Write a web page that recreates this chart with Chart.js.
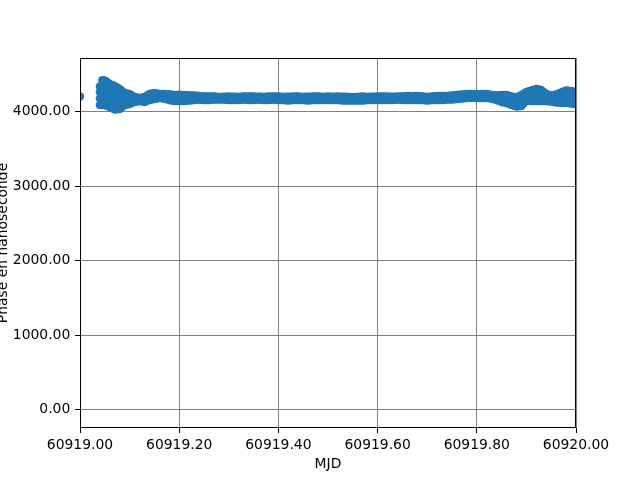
<!DOCTYPE html>
<html>
<head>
<meta charset="utf-8">
<script src="https://cdn.jsdelivr.net/npm/chart.js@4"></script>
<style>
  body { margin: 0; background: #fff; }
  canvas { display: block; }
</style>
</head>
<body>
<canvas id="phase-chart" width="640" height="480"></canvas>
<script>
// first sample, then the rest of the day
var firstMjd = [60919.0];
var firstPhase = [4201];

var mjd = [
  60919.04, 60919.05, 60919.06, 60919.07, 60919.08, 60919.09, 60919.10, 60919.11, 60919.12, 60919.13,
  60919.14, 60919.15, 60919.16, 60919.17, 60919.18, 60919.19, 60919.20, 60919.21, 60919.22, 60919.23,
  60919.24, 60919.25, 60919.26, 60919.27, 60919.28, 60919.29, 60919.30, 60919.31, 60919.32, 60919.33,
  60919.34, 60919.35, 60919.36, 60919.37, 60919.38, 60919.39, 60919.40, 60919.41, 60919.42, 60919.43,
  60919.44, 60919.45, 60919.46, 60919.47, 60919.48, 60919.49, 60919.50, 60919.51, 60919.52, 60919.53,
  60919.54, 60919.55, 60919.56, 60919.57, 60919.58, 60919.59, 60919.60, 60919.61, 60919.62, 60919.63,
  60919.64, 60919.65, 60919.66, 60919.67, 60919.68, 60919.69, 60919.70, 60919.71, 60919.72, 60919.73,
  60919.74, 60919.75, 60919.76, 60919.77, 60919.78, 60919.79, 60919.80, 60919.81, 60919.82, 60919.83,
  60919.84, 60919.85, 60919.86, 60919.87, 60919.88, 60919.89, 60919.90, 60919.91, 60919.92, 60919.93,
  60919.94, 60919.95, 60919.96, 60919.97, 60919.98, 60919.99, 60920.0
];

var phaseHigh = [
  4335, 4416, 4369, 4342, 4302, 4248, 4235, 4195, 4181, 4195,
  4235, 4248, 4235, 4235, 4232, 4221, 4224, 4221, 4218, 4215,
  4208, 4201, 4203, 4201, 4195, 4197, 4201, 4199, 4195, 4201,
  4203, 4201, 4199, 4195, 4201, 4203, 4201, 4195, 4199, 4201,
  4201, 4195, 4199, 4201, 4203, 4195, 4201, 4199, 4201, 4199,
  4195, 4193, 4195, 4201, 4195, 4199, 4201, 4203, 4201, 4199,
  4201, 4203, 4208, 4206, 4208, 4201, 4195, 4201, 4208, 4208,
  4208, 4215, 4221, 4228, 4235, 4235, 4232, 4235, 4235, 4221,
  4215, 4221, 4221, 4201, 4188, 4221, 4262, 4282, 4302, 4289,
  4235, 4215, 4228, 4255, 4282, 4275, 4262
];

var phaseMid = [
  4262, 4309, 4262, 4235, 4208, 4168, 4168, 4161, 4161, 4161,
  4195, 4208, 4208, 4208, 4195, 4181, 4181, 4181, 4181, 4181,
  4178, 4178, 4176, 4180, 4178, 4176, 4178, 4178, 4175, 4178,
  4178, 4176, 4178, 4175, 4178, 4180, 4178, 4175, 4176, 4178,
  4178, 4175, 4176, 4178, 4178, 4175, 4178, 4178, 4178, 4174,
  4172, 4172, 4172, 4175, 4176, 4178, 4178, 4178, 4178, 4178,
  4180, 4178, 4181, 4181, 4181, 4178, 4172, 4178, 4181, 4181,
  4185, 4188, 4195, 4201, 4208, 4208, 4208, 4208, 4208, 4195,
  4181, 4174, 4168, 4141, 4128, 4148, 4208, 4208, 4221, 4215,
  4188, 4174, 4174, 4188, 4201, 4195, 4181
];

var phaseLow = [
  4087, 4087, 4060, 4027, 4034, 4087, 4101, 4128, 4141, 4128,
  4154, 4168, 4181, 4174, 4154, 4141, 4141, 4141, 4148, 4154,
  4161, 4154, 4154, 4161, 4161, 4161, 4154, 4154, 4154, 4161,
  4154, 4154, 4161, 4154, 4154, 4161, 4154, 4154, 4148, 4154,
  4154, 4154, 4148, 4154, 4154, 4154, 4154, 4154, 4154, 4148,
  4148, 4148, 4148, 4148, 4154, 4154, 4154, 4154, 4154, 4154,
  4161, 4154, 4154, 4154, 4154, 4154, 4148, 4154, 4154, 4154,
  4161, 4161, 4168, 4174, 4181, 4185, 4181, 4181, 4181, 4174,
  4154, 4128, 4114, 4087, 4067, 4074, 4148, 4141, 4141, 4141,
  4141, 4134, 4121, 4118, 4118, 4107, 4101
];

// samples taken between the ones above
var mjdB = [
  60919.045, 60919.055, 60919.065, 60919.075, 60919.085, 60919.095, 60919.105, 60919.115, 60919.125, 60919.135,
  60919.145, 60919.155, 60919.165, 60919.175, 60919.185, 60919.195, 60919.205, 60919.215, 60919.225, 60919.235,
  60919.245, 60919.255, 60919.265, 60919.275, 60919.285, 60919.295, 60919.305, 60919.315, 60919.325, 60919.335,
  60919.345, 60919.355, 60919.365, 60919.375, 60919.385, 60919.395, 60919.405, 60919.415, 60919.425, 60919.435,
  60919.445, 60919.455, 60919.465, 60919.475, 60919.485, 60919.495, 60919.505, 60919.515, 60919.525, 60919.535,
  60919.545, 60919.555, 60919.565, 60919.575, 60919.585, 60919.595, 60919.605, 60919.615, 60919.625, 60919.635,
  60919.645, 60919.655, 60919.665, 60919.675, 60919.685, 60919.695, 60919.705, 60919.715, 60919.725, 60919.735,
  60919.745, 60919.755, 60919.765, 60919.775, 60919.785, 60919.795, 60919.805, 60919.815, 60919.825, 60919.835,
  60919.845, 60919.855, 60919.865, 60919.875, 60919.885, 60919.895, 60919.905, 60919.915, 60919.925, 60919.935,
  60919.945, 60919.955, 60919.965, 60919.975, 60919.985, 60919.995
];

var phaseHighB = [
  4420, 4395, 4355, 4322, 4275, 4242, 4215, 4188, 4188, 4215,
  4242, 4242, 4235, 4233, 4226, 4222, 4222, 4220, 4216, 4211,
  4204, 4202, 4202, 4198, 4196, 4199, 4200, 4197, 4198, 4202,
  4202, 4200, 4197, 4198, 4202, 4202, 4198, 4197, 4200, 4201,
  4198, 4197, 4200, 4202, 4199, 4198, 4200, 4200, 4200, 4197,
  4194, 4194, 4198, 4198, 4197, 4200, 4202, 4202, 4200, 4200,
  4202, 4205, 4207, 4207, 4204, 4198, 4198, 4204, 4208, 4208,
  4211, 4218, 4224, 4231, 4235, 4233, 4233, 4235, 4228, 4218,
  4218, 4221, 4211, 4195, 4204, 4242, 4272, 4292, 4296, 4262,
  4225, 4221, 4241, 4268, 4278, 4268
];

var phaseLowB = [
  4087, 4074, 4044, 4030, 4060, 4094, 4114, 4134, 4134, 4141,
  4161, 4174, 4177, 4164, 4148, 4141, 4141, 4144, 4151, 4158,
  4158, 4154, 4158, 4161, 4161, 4158, 4154, 4154, 4158, 4158,
  4154, 4158, 4158, 4154, 4158, 4158, 4154, 4151, 4151, 4154,
  4154, 4151, 4151, 4154, 4154, 4154, 4154, 4154, 4151, 4148,
  4148, 4148, 4148, 4151, 4154, 4154, 4154, 4154, 4154, 4158,
  4158, 4154, 4154, 4154, 4154, 4151, 4151, 4154, 4154, 4158,
  4161, 4164, 4171, 4178, 4183, 4183, 4181, 4181, 4178, 4164,
  4141, 4121, 4101, 4077, 4070, 4111, 4144, 4141, 4141, 4141,
  4138, 4128, 4120, 4118, 4112, 4104
];

// extra samples where the phase is noisy
var burstMjd = [
  60919.04, 60919.05, 60919.06, 60919.07, 60919.08,
  60919.045, 60919.045, 60919.055, 60919.055, 60919.065, 60919.065, 60919.075, 60919.075, 60919.085, 60919.095,
  60919.895, 60919.925, 60919.965, 60919.975, 60919.985, 60919.995
];
var burstPhase = [
  4175, 4195, 4161, 4134, 4121,
  4300, 4195, 4285, 4180, 4250, 4150, 4222, 4128, 4168, 4168,
  4175, 4180, 4195, 4195, 4190, 4185
];

var xTicks = [60919.0, 60919.2, 60919.4, 60919.6, 60919.8, 60920.0];
var yTicks = [0, 1000, 2000, 3000, 4000];

var points = [];
firstMjd.forEach((x, i) => points.push({ x: x, y: firstPhase[i] }));
mjd.forEach((x, i) => {
  points.push({ x: x, y: phaseHigh[i] });
  points.push({ x: x, y: phaseMid[i] });
  points.push({ x: x, y: phaseLow[i] });
});
mjdB.forEach((x, i) => {
  points.push({ x: x, y: phaseHighB[i] });
  points.push({ x: x, y: phaseLowB[i] });
});
burstMjd.forEach((x, i) => points.push({ x: x, y: burstPhase[i] }));

var font = { family: "'DejaVu Sans'", size: 13.9 };

var frameAndLabels = {
  id: "frameAndLabels",
  afterDatasetsDraw(chart) {
    let ctx = chart.ctx;
    let a = chart.chartArea;
    ctx.save();
    ctx.strokeStyle = "#000";
    ctx.lineWidth = 1;
    ctx.strokeRect(Math.round(a.left) + 0.5, Math.round(a.top) + 0.5,
      Math.round(a.right - a.left) - 1, Math.round(a.bottom - a.top) - 1);
    ctx.fillStyle = "#000";
    ctx.font = "13.9px 'DejaVu Sans'";
    ctx.textAlign = "center";
    ctx.textBaseline = "alphabetic";
    ctx.fillText("MJD", (a.left + a.right) / 2, 467.5);
    ctx.translate(7, (a.top + a.bottom) / 2);
    ctx.rotate(-Math.PI / 2);
    ctx.fillText("Phase en nanoseconde", 0, 0);
    ctx.restore();
  },
};

var ctx = document.getElementById("phase-chart").getContext("2d");
var phaseChart = new Chart(ctx, {
  type: "scatter",
  data: {
    datasets: [
      {
        data: points,
        backgroundColor: "#1f77b4",
        borderWidth: 0,
        pointRadius: 4.2,
        pointHoverRadius: 4.2,
        clip: 0,
      },
    ],
  },
  options: {
    responsive: false,
    animation: false,
    devicePixelRatio: 1,
    layout: { padding: { left: 0, top: 58, right: 64, bottom: 0 } },
    plugins: { legend: { display: false }, tooltip: { enabled: false } },
    scales: {
      x: {
        type: "linear",
        min: 60919,
        max: 60920,
        afterBuildTicks: (scale) => {
          scale.ticks = xTicks.map((v) => ({ value: v }));
        },
        afterFit: (scale) => {
          scale.height = 52;
        },
        ticks: {
          color: "#000",
          font: font,
          padding: 4.5,
          maxRotation: 0,
          autoSkip: false,
          callback: (v) => Number(v).toFixed(2),
        },
        grid: { color: "#808080", lineWidth: 1, tickLength: 5, tickColor: "#000", tickWidth: 1 },
        border: { display: false },
      },
      y: {
        type: "linear",
        min: -248,
        max: 4718,
        afterBuildTicks: (scale) => {
          scale.ticks = yTicks.map((v) => ({ value: v }));
        },
        afterFit: (scale) => {
          scale.width = 80;
        },
        ticks: {
          color: "#000",
          font: font,
          padding: 4.7,
          autoSkip: false,
          callback: (v) => Number(v).toFixed(2),
        },
        grid: { color: "#808080", lineWidth: 1, tickLength: 5, tickColor: "#000", tickWidth: 1 },
        border: { display: false },
      },
    },
  },
  plugins: [frameAndLabels],
});
</script>
</body>
</html>
